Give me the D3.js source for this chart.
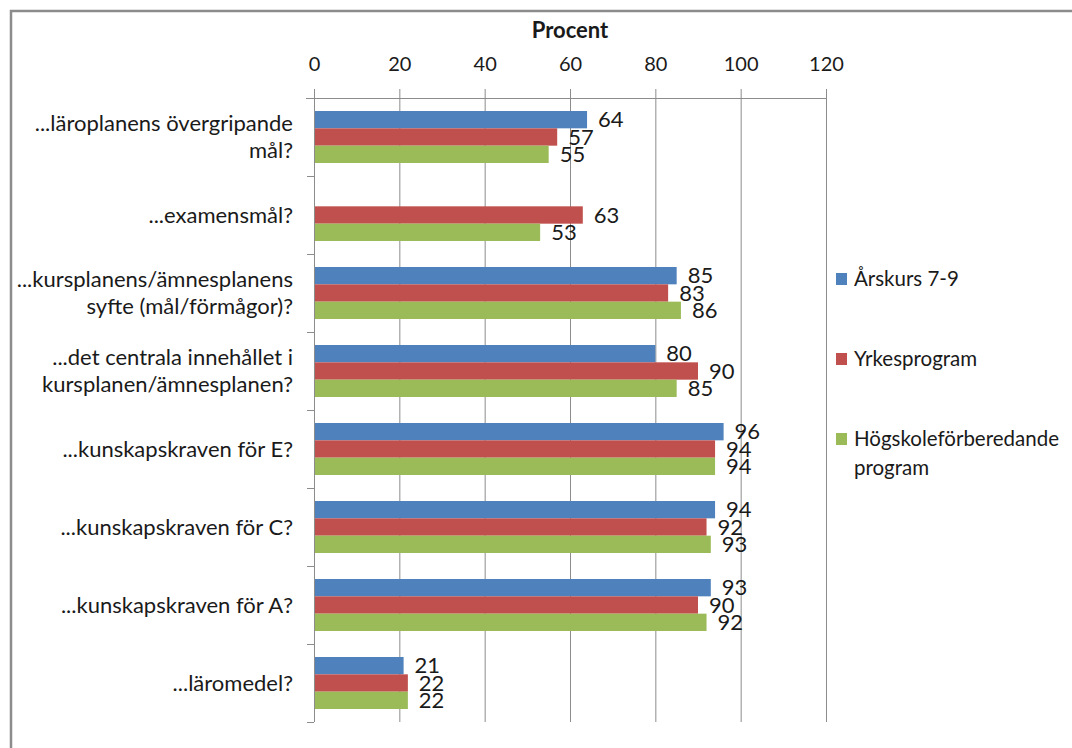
<!DOCTYPE html>
<html>
<head>
<meta charset="utf-8">
<script src="https://cdn.jsdelivr.net/npm/d3@7"></script>
<style>
  html, body { margin: 0; padding: 0; background: #fff; }
  svg { display: block; }
  text { font-family: Lato, "Open Sans", sans-serif; fill: #1a1a1a; }
</style>
</head>
<body>
<svg id="chart" width="1072" height="748"></svg>
<script>
// Question categories (lines split for wrapped labels)
const categories = [
  ["...läroplanens övergripande", "mål?"],
  ["...examensmål?"],
  ["...kursplanens/ämnesplanens", "syfte (mål/förmågor)?"],
  ["...det centrala innehållet i", "kursplanen/ämnesplanen?"],
  ["...kunskapskraven för E?"],
  ["...kunskapskraven för C?"],
  ["...kunskapskraven för A?"],
  ["...läromedel?"]
];
const seriesNames = ["Årskurs 7-9", "Yrkesprogram", ["Högskoleförberedande", "program"]];
const arskurs = [64, null, 85, 80, 96, 94, 93, 21];
const yrkes = [57, 63, 83, 90, 94, 92, 90, 22];
const hogskole = [55, 53, 86, 85, 94, 93, 92, 22];
const xTicks = [0, 20, 40, 60, 80, 100, 120];
const colors = ["#4F81BD", "#C0504D", "#9BBB59"];
const axisTitle = "Procent";

(function () {
const series = [arskurs, yrkes, hogskole];
const svg = d3.select("#chart");
const labelSize = 22;

// Outer frame
svg.append("path")
  .attr("d", "M11,748 V11 H1072")
  .attr("fill", "none").attr("stroke", "#8c8c8c").attr("stroke-width", 2.5);

const pLeft = 314, pRight = 826, pTop = 98, pBottom = 722;
const x = d3.scaleLinear().domain([0, 120]).range([pLeft, pRight]);
const y = d3.scaleBand().domain(d3.range(categories.length)).range([pTop, pBottom]).paddingInner(0).paddingOuter(0);
const gapRatio = 1.5; // gap width as share of one bar
const barH = y.bandwidth() / (3 + gapRatio);
const groupOffset = barH * gapRatio / 2;

// Vertical gridlines
svg.append("g").selectAll("line").data(xTicks.slice(1)).join("line")
  .attr("x1", d => x(d) + 0.5).attr("x2", d => x(d) + 0.5)
  .attr("y1", pTop).attr("y2", pBottom)
  .attr("stroke", "#8c8c8c").attr("stroke-width", 1);

// Top axis
const xAxis = d3.axisTop(x).tickValues(xTicks).tickSize(9).tickSizeOuter(0).tickPadding(6);
const gx = svg.append("g").attr("transform", `translate(0,${pTop})`).call(xAxis);
gx.select(".domain").attr("stroke", "#8c8c8c").attr("d", `M${pLeft - 8},0.5H${pRight}`);
gx.selectAll(".tick line").attr("stroke", "#8c8c8c");
gx.selectAll(".tick text")
  .attr("font-size", 20).attr("fill", "#1a1a1a")
  .style("font-family", 'Lato, "Open Sans", sans-serif')
  .attr("y", -27);

svg.append("text")
  .attr("x", (pLeft + pRight) / 2).attr("y", 38)
  .attr("text-anchor", "middle").attr("font-size", labelSize).attr("font-weight", "bold")
  .text(axisTitle);

// Left axis with category boundary ticks
const boundaries = d3.range(categories.length + 1).map(i => pTop + i * y.step());
svg.append("line").attr("x1", pLeft + 0.5).attr("x2", pLeft + 0.5).attr("y1", pTop).attr("y2", pBottom)
  .attr("stroke", "#8c8c8c");
svg.append("g").selectAll("line").data(boundaries).join("line")
  .attr("x1", pLeft - 7).attr("x2", pLeft).attr("y1", d => d + 0.5).attr("y2", d => d + 0.5)
  .attr("stroke", "#8c8c8c");

// Category labels
const lineH = 27;
categories.forEach((lines, i) => {
  const cy = y(i) + y.bandwidth() / 2;
  const t = svg.append("text")
    .attr("text-anchor", "end").attr("font-size", labelSize);
  lines.forEach((ln, j) => {
    t.append("tspan").attr("x", 293)
      .attr("y", cy + (j - (lines.length - 1) / 2) * lineH)
      .attr("dy", "0.35em").text(ln);
  });
});

// Bars and value labels
series.forEach((vals, s) => {
  const g = svg.append("g");
  const data = vals.map((v, i) => ({ v, i })).filter(d => d.v !== null);
  g.selectAll("rect").data(data).join("rect")
    .attr("x", x(0) + 1)
    .attr("y", d => y(d.i) + groupOffset + s * barH)
    .attr("width", d => x(d.v) - x(0) - 1)
    .attr("height", barH)
    .attr("fill", colors[s]);
  g.selectAll("text").data(data).join("text")
    .attr("x", d => x(d.v) + 11)
    .attr("y", d => y(d.i) + groupOffset + s * barH + barH / 2)
    .attr("dy", "0.35em")
    .attr("font-size", labelSize)
    .text(d => d.v);
});

// Legend
const legendY = [279, 359, 439];
seriesNames.forEach((name, s) => {
  svg.append("rect").attr("x", 836).attr("y", legendY[s] - 6).attr("width", 11).attr("height", 12)
    .attr("fill", colors[s]);
  const lines = Array.isArray(name) ? name : [name];
  const t = svg.append("text").attr("font-size", 20.5);
  lines.forEach((ln, j) => {
    t.append("tspan").attr("x", 854).attr("y", legendY[s] + j * 29).attr("dy", "0.35em").text(ln);
  });
});
})();
</script>
</body>
</html>
